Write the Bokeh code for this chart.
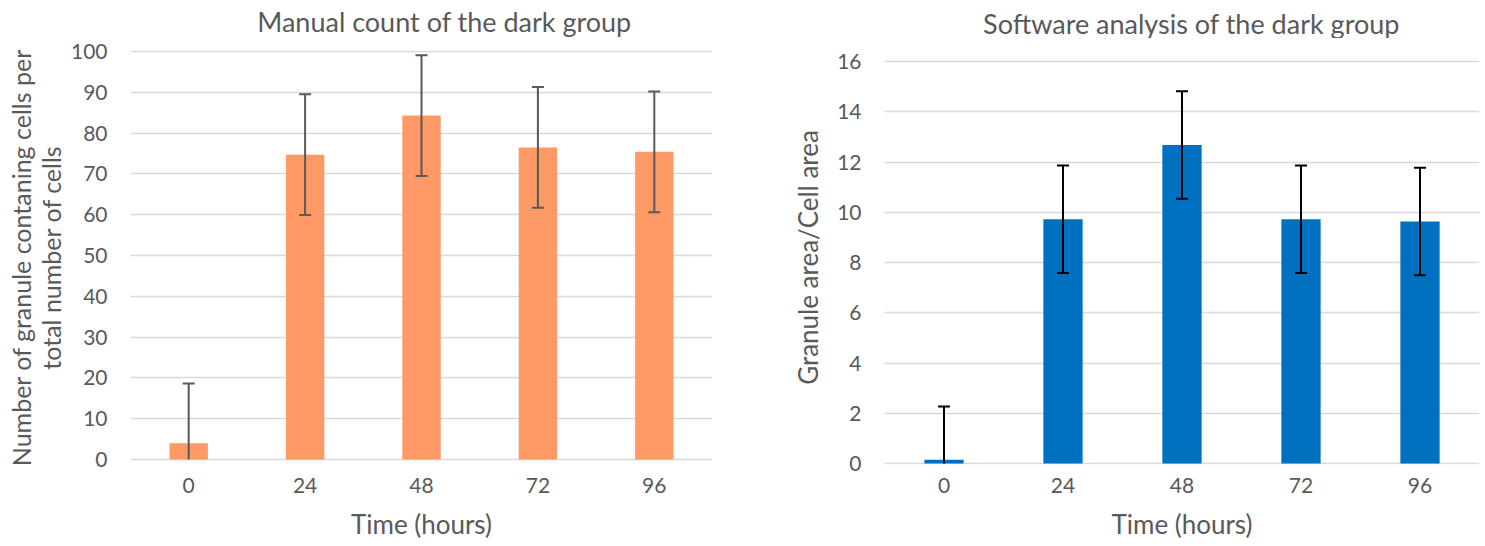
from bokeh.plotting import figure
from bokeh.models import FactorRange, Range1d, SingleIntervalTicker, ColumnDataSource
from bokeh.core.properties import value
from bokeh.layouts import row, column
from bokeh.embed import file_html
from bokeh.resources import INLINE

hours = ["0", "24", "48", "72", "96"]

manual_mean = [4.0, 74.7, 84.3, 76.5, 75.4]
manual_err = [14.6, 14.8, 14.8, 14.8, 14.8]

software_mean = [0.15, 9.72, 12.68, 9.72, 9.63]
software_err = [2.12, 2.14, 2.14, 2.14, 2.14]

titles = ["Manual count of the dark group", "Software analysis of the dark group"]

FONT = "Lato"
TXT = "#595959"
GRID = "#D9D9D9"

# title strip across the top
tf = figure(width=1485, height=38, x_range=Range1d(0, 1485), y_range=Range1d(0, 38),
            min_border=0, output_backend="svg", toolbar_location=None)
tf.axis.visible = False
tf.grid.visible = False
tf.outline_line_color = None
tf.text(x=[444, 1191], y=[17.5, 15.5], text=titles, text_font=value(FONT),
        text_font_size="27px", text_color=TXT, text_align="center",
        text_baseline="middle")


def make(ylabel, means, errs, ylo, yhi, step, color, errcolor,
         width, bl, br, ylab_standoff):
    p = figure(width=width, height=508,
               x_range=FactorRange(factors=hours, range_padding=0),
               y_range=Range1d(ylo, yhi), min_border_left=bl, min_border_right=br,
               min_border_top=12, min_border_bottom=82,
               output_backend="svg", toolbar_location=None)
    p.outline_line_color = None

    upper = [m + e for m, e in zip(means, errs)]
    lower = [max(m - e, 0) for m, e in zip(means, errs)]
    src = ColumnDataSource(dict(x=hours, top=means, upper=upper, lower=lower))
    p.vbar(x="x", top="top", bottom=0, width=0.33, source=src,
           fill_color=color, line_color=None)
    p.segment(x0="x", y0="lower", x1="x", y1="upper", source=src,
              line_color=errcolor, line_width=2)
    p.scatter(x="x", y="upper", source=src, marker="dash", size=12,
              line_color=errcolor, line_width=2)
    lx = [h for h, lo in zip(hours, lower) if lo > 0]
    ly = [lo for lo in lower if lo > 0]
    p.scatter(x=lx, y=ly, marker="dash", size=12, line_color=errcolor, line_width=2)

    p.xgrid.grid_line_color = None
    p.ygrid.grid_line_color = GRID
    p.ygrid.grid_line_width = 1.5
    p.yaxis.ticker = SingleIntervalTicker(interval=step)

    for ax in (p.xaxis[0], p.yaxis[0]):
        ax.major_tick_line_color = None
        ax.minor_tick_line_color = None
        ax.major_tick_out = 0
        ax.major_tick_in = 0
        ax.minor_tick_out = 0
        ax.minor_tick_in = 0
        ax.axis_line_color = None
        ax.major_label_text_font = FONT
        ax.major_label_text_font_size = "21px"
        ax.major_label_text_color = TXT
        ax.axis_label_text_font = FONT
        ax.axis_label_text_font_size = "26px"
        ax.axis_label_text_font_style = "normal"
        ax.axis_label_text_color = TXT
        ax.axis_label_text_line_height = 1.0
    p.yaxis.major_label_standoff = 23
    p.xaxis.major_label_standoff = 13
    p.xaxis.axis_label = "Time (hours)"
    p.xaxis.axis_label_standoff = 12
    p.yaxis.axis_label = ylabel
    p.yaxis.axis_label_standoff = ylab_standoff
    return p


p1 = make("Number of granule contaning cells per\ntotal number of cells",
          manual_mean, manual_err, -1.225, 100.245, 10, "#FF9966", "#595959",
          745, 130, 33, 2)
p1.yaxis.axis_label_text_font_size = "25px"
p2 = make("Granule area/Cell area",
          software_mean, software_err, -0.04, 16.44, 2, "#0070C0", "#000000",
          740, 139, 6, 10)

p = column(tf, row(p1, p2))
open("out.html", "w").write(file_html(p, INLINE))
